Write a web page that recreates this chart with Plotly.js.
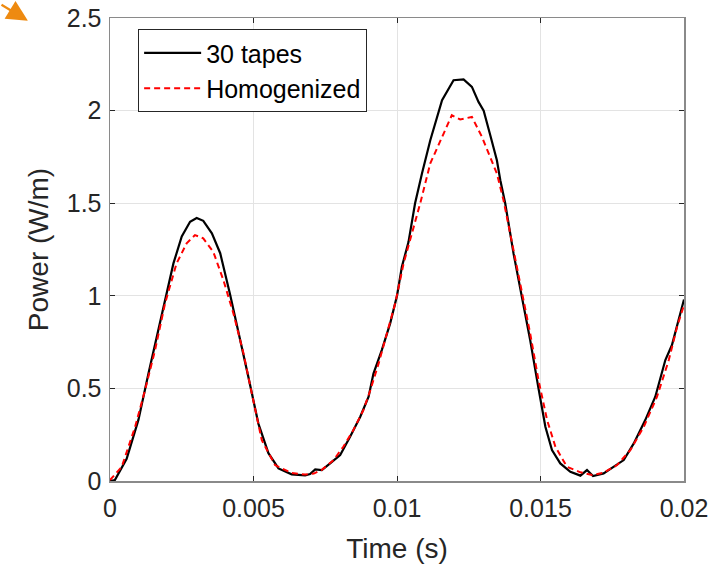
<!DOCTYPE html>
<html>
<head>
<meta charset="utf-8">
<script src="https://cdn.plot.ly/plotly-3.0.1.min.js"></script>
<style>
  html, body { margin: 0; padding: 0; background: #ffffff; }
  #chart { width: 712px; height: 565px; }
</style>
</head>
<body>
<div id="chart"></div>
<script>
// Time (s) and power (W/m) for the 30-tape model
const timeTapes = [0, 0.00017, 0.00058, 0.00099, 0.00134, 0.00168, 0.00198, 0.00221, 0.0025, 0.00279, 0.00302, 0.00325, 0.00355, 0.00384, 0.00418, 0.00447, 0.00482, 0.00517, 0.00552, 0.00587, 0.00633, 0.0068, 0.00697, 0.00715, 0.00738, 0.00767, 0.00802, 0.00837, 0.00872, 0.00901, 0.00918, 0.00947, 0.00976, 0.0100, 0.01017, 0.0104, 0.01063, 0.01087, 0.01116, 0.01157, 0.01197, 0.01232, 0.01261, 0.01284, 0.01302, 0.01325, 0.01348, 0.0136, 0.01377, 0.01406, 0.01435, 0.01464, 0.01493, 0.01517, 0.0154, 0.01569, 0.01604, 0.01639, 0.01662, 0.01683, 0.0172, 0.01755, 0.0179, 0.01825, 0.01865, 0.019, 0.01935, 0.01958, 0.01981, 0.02];
const powerTapes = [0, 0.005, 0.12, 0.33, 0.58, 0.815, 1.01, 1.175, 1.32, 1.40, 1.42, 1.405, 1.337, 1.23, 1.01, 0.815, 0.563, 0.31, 0.15, 0.068, 0.036, 0.03, 0.038, 0.063, 0.059, 0.095, 0.14, 0.24, 0.347, 0.455, 0.58, 0.707, 0.85, 1.0, 1.157, 1.29, 1.5, 1.66, 1.84, 2.056, 2.164, 2.168, 2.128, 2.047, 2.0, 1.867, 1.732, 1.624, 1.5, 1.229, 1.0, 0.761, 0.5, 0.293, 0.167, 0.095, 0.05, 0.029, 0.059, 0.027, 0.041, 0.077, 0.113, 0.203, 0.329, 0.455, 0.653, 0.734, 0.869, 0.98];

// Time (s) and power (W/m) for the homogenized model
const timeHomog = [0, 0.00041, 0.00087, 0.00122, 0.00157, 0.00192, 0.00232, 0.00267, 0.00296, 0.00325, 0.0036, 0.00395, 0.0043, 0.00465, 0.00494, 0.00529, 0.00575, 0.00633, 0.0068, 0.0071, 0.00738, 0.00779, 0.00813, 0.00848, 0.00883, 0.00907, 0.00936, 0.00965, 0.00994, 0.01023, 0.01052, 0.01081, 0.01116, 0.01151, 0.01191, 0.0122, 0.01261, 0.01296, 0.01325, 0.01348, 0.01371, 0.01406, 0.01435, 0.01464, 0.01493, 0.01523, 0.01552, 0.01592, 0.01639, 0.0168, 0.0172, 0.01767, 0.01813, 0.0186, 0.01906, 0.01947, 0.01976, 0.02];
const powerHomog = [0.005, 0.077, 0.29, 0.49, 0.707, 0.96, 1.175, 1.283, 1.328, 1.31, 1.237, 1.085, 0.905, 0.69, 0.473, 0.22, 0.086, 0.043, 0.035, 0.04, 0.06, 0.113, 0.185, 0.275, 0.383, 0.49, 0.635, 0.797, 0.96, 1.175, 1.337, 1.5, 1.715, 1.84, 1.975, 1.952, 1.966, 1.858, 1.75, 1.66, 1.517, 1.247, 1.01, 0.797, 0.545, 0.329, 0.185, 0.077, 0.047, 0.032, 0.045, 0.086, 0.167, 0.293, 0.455, 0.653, 0.833, 0.95];

const xTickVals = [0, 0.005, 0.01, 0.015, 0.02];
const xTickText = ["0", "0.005", "0.01", "0.015", "0.02"];
const yTickVals = [0, 0.5, 1, 1.5, 2, 2.5];
const yTickText = ["0", "0.5", "1", "1.5", "2", "2.5"];

const seriesNames = ["30 tapes", "Homogenized"];

const FONT = "Liberation Sans, Arial, Helvetica, sans-serif";
const TXT = "#262626";

const traces = [
  {
    x: timeTapes, y: powerTapes, name: seriesNames[0],
    type: "scatter", mode: "lines",
    line: { color: "#000000", width: 2.2 }
  },
  {
    x: timeHomog, y: powerHomog, name: seriesNames[1],
    type: "scatter", mode: "lines",
    line: { color: "#ff0000", width: 2, dash: "6px,4px" }
  }
];

const axisCommon = {
  showgrid: true, gridcolor: "#e3e3e3", gridwidth: 1,
  zeroline: false,
  showline: true, linecolor: "#8a8a8a", linewidth: 1.5,
  mirror: "allticks",
  ticks: "inside", ticklen: 5, tickwidth: 1, tickcolor: "#262626",
  tickfont: { family: FONT, size: 25, color: TXT }
};

const layout = {
  width: 712, height: 565,
  margin: { l: 110, r: 28, t: 18, b: 84 },
  paper_bgcolor: "#ffffff", plot_bgcolor: "#ffffff",
  showlegend: true,
  xaxis: Object.assign({}, axisCommon, {
    range: [0, 0.02],
    tickvals: xTickVals, ticktext: xTickText,
    ticklabelstandoff: 4,
    title: { text: "Time (s)", font: { family: FONT, size: 28, color: TXT }, standoff: 18 }
  }),
  yaxis: Object.assign({}, axisCommon, {
    range: [0, 2.5],
    tickvals: yTickVals, ticktext: yTickText,
    ticklabelstandoff: 2,
    title: { text: "Power (W/m)", font: { family: FONT, size: 28, color: TXT }, standoff: 10 }
  }),
  legend: {
    x: 0.049, y: 0.976, xanchor: "left", yanchor: "top",
    bgcolor: "#ffffff", bordercolor: "#262626", borderwidth: 1,
    font: { family: FONT, size: 25, color: "#000000" },
    itemwidth: 57, tracegroupgap: 0
  },
  annotations: [
    {
      xref: "paper", yref: "paper",
      x: -0.143, y: 0.994,
      ax: -28, ay: -17,
      showarrow: true, arrowhead: 2, arrowsize: 1.9, arrowwidth: 2.2,
      arrowcolor: "#ee8a10", text: ""
    }
  ]
};

Plotly.newPlot("chart", traces, layout, { displayModeBar: false, staticPlot: true });
</script>
</body>
</html>
